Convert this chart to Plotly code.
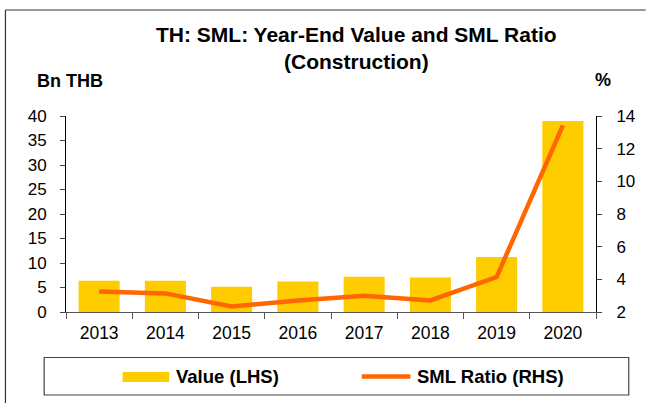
import plotly.graph_objects as go

years = ["2013", "2014", "2015", "2016", "2017", "2018", "2019", "2020"]
value_bn_thb = [6.4, 6.4, 5.15, 6.25, 7.2, 7.05, 11.2, 39.0]
sml_ratio_pct = [3.26, 3.14, 2.34, 2.71, 3.0, 2.71, 4.14, 13.43]
left_ticks = [0, 5, 10, 15, 20, 25, 30, 35, 40]
right_ticks = [2, 4, 6, 8, 10, 12, 14]

W, H = 647, 403
L, R, T, B = 66, 600, 116, 312


def px(x):
    return (x - L) / (R - L)


def py(y):
    return (B - y) / (B - T)


FONT = "Arial, Liberation Sans, sans-serif"
BAR_COLOR = "#FFCC00"
LINE_COLOR = "#FF6600"

fig = go.Figure()
fig.add_trace(go.Bar(x=years, y=value_bn_thb, name="Value (LHS)",
                     marker=dict(color=BAR_COLOR, line=dict(width=0)),
                     width=0.62, showlegend=False))
fig.add_trace(go.Scatter(x=years, y=sml_ratio_pct, name="SML Ratio (RHS)", yaxis="y2",
                         mode="lines", line=dict(color=LINE_COLOR, width=4.5),
                         showlegend=False))

fig.update_layout(
    width=W, height=H,
    margin=dict(l=L, r=W - R, t=T, b=H - B, pad=0),
    paper_bgcolor="white", plot_bgcolor="white",
    font=dict(family=FONT, color="#000000"),
    bargap=0.38,
    xaxis=dict(type="category", range=[-0.5, 7.5], tickson="boundaries",
               showline=True, linecolor="#555555", linewidth=1.2,
               ticks="outside", ticklen=6, tickcolor="#555555",
               tickfont=dict(size=17.5), ticklabelstandoff=5,
               showgrid=False, zeroline=False, fixedrange=True),
    yaxis=dict(range=[0, 40], tickvals=left_ticks,
               showline=True, linecolor="#000000", linewidth=1,
               ticks="outside", ticklen=5, tickcolor="#444444",
               tickfont=dict(size=17), ticklabelstandoff=10,
               showgrid=False, zeroline=False),
    yaxis2=dict(range=[2, 14], tickvals=right_ticks, overlaying="y", side="right",
                showline=True, linecolor="#000000", linewidth=1,
                ticks="outside", ticklen=5, tickcolor="#444444",
                tickfont=dict(size=17), ticklabelstandoff=11,
                showgrid=False, zeroline=False),
)

annotations = [
    dict(text="<b>TH: SML: Year-End Value and SML Ratio</b><br><b>(Construction)</b>",
         x=px(359), y=py(47.5), font=dict(size=21)),
    dict(text="<b>Bn THB</b>", x=px(70), y=py(81), font=dict(size=18)),
    dict(text="<b>%</b>", x=px(607), y=py(80), font=dict(size=18)),
    dict(text="<b>Value (LHS)</b>", x=px(175), y=py(376), xanchor="left", font=dict(size=18.5)),
    dict(text="<b>SML Ratio (RHS)</b>", x=px(418), y=py(376), xanchor="left", font=dict(size=18.5)),
]
for a in annotations:
    a.setdefault("xanchor", "center")
    a.update(xref="paper", yref="paper", yanchor="middle", showarrow=False)
fig.update_layout(annotations=annotations)

shapes = [
    # outer frame (left and top)
    dict(type="line", x0=px(5), x1=px(5), y0=py(10), y1=py(410), line=dict(color="#333333", width=1.2)),
    dict(type="line", x0=px(5), x1=px(650), y0=py(10), y1=py(10), line=dict(color="#333333", width=1.2)),
    # legend box
    dict(type="rect", x0=px(44), x1=px(633), y0=py(357.5), y1=py(395), line=dict(color="#444444", width=1.2),
         fillcolor="rgba(0,0,0,0)"),
    # legend swatches
    dict(type="rect", x0=px(123), x1=px(170), y0=py(372), y1=py(382), line=dict(width=0), fillcolor=BAR_COLOR),
    dict(type="line", x0=px(364), x1=px(413), y0=py(376.5), y1=py(376.5), line=dict(color=LINE_COLOR, width=4.5)),
]
for s in shapes:
    s.update(xref="paper", yref="paper", layer="above")
fig.update_layout(shapes=shapes)

fig.write_html(
    "out.html",
    config={"displayModeBar": False},
    post_script="document.body.style.margin='0';document.body.style.padding='0';"
                "document.body.style.overflow='hidden';",
)
